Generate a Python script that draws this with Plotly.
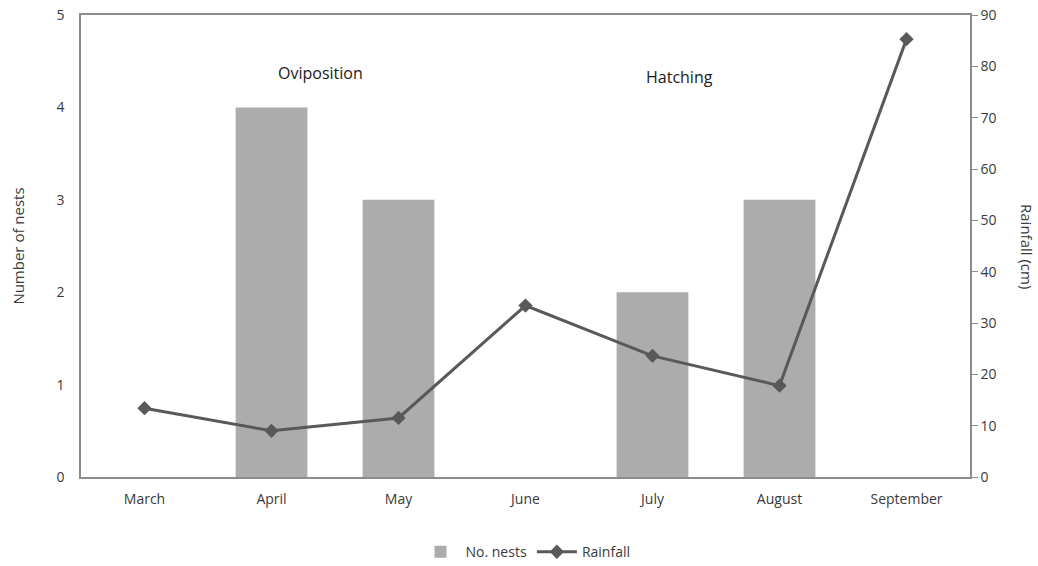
import plotly.graph_objects as go

months = ["March", "April", "May", "June", "July", "August", "September"]
nests = [0, 4, 3, 0, 2, 3, 0]
rainfall = [13.4, 9.0, 11.5, 33.4, 23.6, 17.8, 85.3]

FONT = "Open Sans, Liberation Sans, Arial, sans-serif"
TXT = "#3a3a3a"

fig = go.Figure()
fig.add_trace(go.Bar(
    x=months, y=nests, name="No. nests",
    marker=dict(color="#acacac", line=dict(width=0)),
    width=0.565, yaxis="y",
))
fig.add_trace(go.Scatter(
    x=months, y=rainfall, name="Rainfall", mode="lines+markers",
    line=dict(color="#595959", width=3),
    marker=dict(symbol="diamond", size=11, color="#595959"),
    yaxis="y2",
))

fig.update_layout(
    width=1038, height=566,
    margin=dict(l=81, r=68, t=15, b=89, autoexpand=False),
    paper_bgcolor="white", plot_bgcolor="white",
    font=dict(family=FONT, size=14, color=TXT),
    showlegend=True,
    legend=dict(orientation="h", x=0.5, xanchor="center", y=-0.128, yanchor="top",
                font=dict(size=14, color=TXT), traceorder="normal", itemwidth=40),
    xaxis=dict(
        showline=True, linecolor="#8c8c8c", linewidth=1.5, mirror=True,
        showgrid=False, ticks="", ticklabelstandoff=8,
        tickfont=dict(size=14, color=TXT),
    ),
    yaxis=dict(
        range=[0, 5], dtick=1, showgrid=False, zeroline=False,
        showline=True, linecolor="#8c8c8c", linewidth=1.5,
        ticks="", ticklabelstandoff=12, tickfont=dict(size=14, color=TXT),
        title=dict(text="Number of nests", font=dict(size=15, color=TXT), standoff=28),
    ),
    yaxis2=dict(
        range=[0, 90], dtick=10, overlaying="y", side="right",
        showgrid=False, zeroline=False,
        showline=True, linecolor="#8c8c8c", linewidth=1.5,
        ticks="outside", ticklen=6, tickcolor="#8c8c8c",
        tickfont=dict(size=14, color=TXT),
    ),
    bargap=0.435,
)

fig.add_annotation(text="Rainfall (cm)", xref="paper", yref="paper", x=1.0, xshift=57,
                   xanchor="center", y=0.5, yanchor="middle", textangle=90,
                   showarrow=False, font=dict(size=15, color=TXT))
fig.add_annotation(text="Oviposition", x="April", xshift=49, yref="paper", y=0.874,
                   yanchor="middle", showarrow=False, font=dict(size=16, color="#1a1a1a"))
fig.add_annotation(text="Hatching", x="July", xshift=27, yref="paper", y=0.866,
                   yanchor="middle", showarrow=False, font=dict(size=16, color="#1a1a1a"))

fig.write_html("out.html")
